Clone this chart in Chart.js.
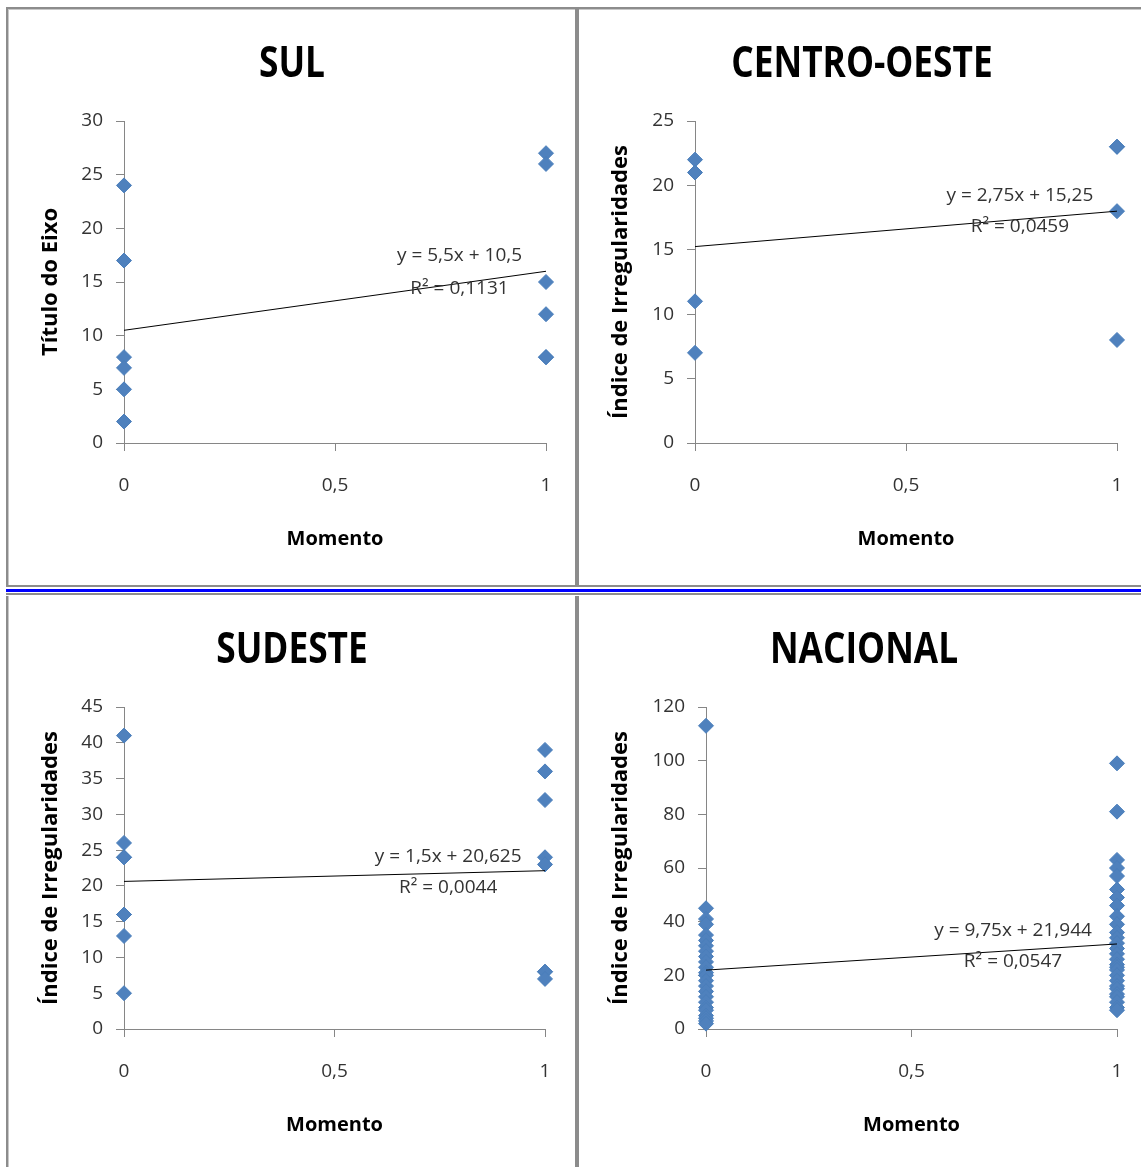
<!DOCTYPE html>
<html lang="pt-BR">
<head>
<meta charset="utf-8">
<title>Índice de Irregularidades por Momento</title>
<script src="https://cdn.jsdelivr.net/npm/chart.js@4.4.1/dist/chart.umd.min.js"></script>
<style>
  html, body { margin: 0; padding: 0; background: #fff; }
  #page { position: relative; width: 1141px; height: 1167px; overflow: hidden; background: #fff; }
  .linha { position: absolute; }
  canvas { position: absolute; }
</style>
</head>
<body>
<div id="page">
  <!-- molduras -->
  <div class="linha" style="left:6px;top:7px;width:1135px;height:2px;background:#8c8c8c"></div>
  <div class="linha" style="left:6px;top:9px;width:1135px;height:1px;background:#c8c8c8"></div>
  <div class="linha" style="left:6px;top:7px;width:2px;height:1160px;background:#8c8c8c"></div>
  <div class="linha" style="left:8px;top:9px;width:1px;height:1158px;background:#c8c8c8"></div>
  <div class="linha" style="left:575px;top:7px;width:4px;height:1160px;background:#8c8c8c"></div>
  <div class="linha" style="left:0;top:585px;width:1141px;height:11px;background:#fff"></div>
  <div class="linha" style="left:6px;top:585px;width:1135px;height:2px;background:#8c8c8c"></div>
  <div class="linha" style="left:6px;top:589px;width:1135px;height:3px;background:#0000ff"></div>
  <div class="linha" style="left:6px;top:593px;width:1135px;height:2px;background:#8c8c8c"></div>

  <canvas id="painel-0" width="566" height="575" style="left:9px;top:10px;width:566px;height:575px"></canvas>
  <canvas id="painel-1" width="562" height="575" style="left:579px;top:10px;width:562px;height:575px"></canvas>
  <canvas id="painel-2" width="566" height="571" style="left:9px;top:596px;width:566px;height:571px"></canvas>
  <canvas id="painel-3" width="562" height="571" style="left:579px;top:596px;width:562px;height:571px"></canvas>
</div>

<script>
/* ============================================
   Irregularidades x Momento – 4 regiões
   ============================================ */

const regioes = ['SUL', 'CENTRO-OESTE', 'SUDESTE', 'NACIONAL'];
const tituloEixoY = ['Título do Eixo', 'Índice de Irregularidades', 'Índice de Irregularidades', 'Índice de Irregularidades'];
const tituloEixoX = 'Momento';
const maxEixoY = [30, 25, 45, 120];
const passoEixoY = [5, 5, 5, 20];
const ticksEixoX = [0, 0.5, 1];

// valores (momento 0 e momento 1)
const sulMomento0 = [24, 17, 8, 7, 5, 2];
const sulMomento1 = [27, 26, 15, 12, 8, 8];
const coMomento0 = [22, 21, 11, 7];
const coMomento1 = [23, 23, 18, 8];
const sudesteMomento0 = [41, 26, 24, 24, 16, 16, 13, 5];
const sudesteMomento1 = [39, 36, 32, 24, 23, 8, 8, 7];
const nacionalMomento0 = [113, 45, 41, 39, 35, 33, 31, 29, 27, 25, 23, 21, 20, 18, 16, 14, 12, 10, 8, 7, 5, 4, 3, 2];
const nacionalMomento1 = [99, 81, 63, 60, 57, 52, 49, 46, 42, 39, 36, 34, 32, 30, 28, 26, 24, 23, 22, 20, 18, 16, 15, 13, 12, 10, 8, 7];

const momento0 = [sulMomento0, coMomento0, sudesteMomento0, nacionalMomento0];
const momento1 = [sulMomento1, coMomento1, sudesteMomento1, nacionalMomento1];

// linha de tendência linear (y = a*x + b) e R²
const inclinacao = [5.5, 2.75, 1.5, 9.75];
const intercepto = [10.5, 15.25, 20.625, 21.944];
const rQuadrado = [0.1131, 0.0459, 0.0044, 0.0547];

// posição da área do gráfico dentro de cada canvas [esq, topo, dir, base]
const AREA = [
    [115, 111, 537, 433],
    [116, 111, 538, 433],
    [115, 111, 536, 433],
    [127, 111, 538, 433]
];
// centro horizontal do título no canvas
const CENTRO_TITULO = [283, 283, 283, 285];
// rótulo da equação, em fração da área do gráfico
const ROTULO = [
    { cx: 0.795, y1: 0.419, y2: 0.522 },
    { cx: 0.770, y1: 0.233, y2: 0.329 },
    { cx: 0.770, y1: 0.466, y2: 0.562 },
    { cx: 0.747, y1: 0.693, y2: 0.792 }
];

const AZUL = '#4F81BD';
const EIXO = '#868686';
const TEXTO = '#333333';

const virgula = v => String(v).replace('.', ',');

const equacaoPlugin = {
    id: 'equacao',
    afterDatasetsDraw(chart, args, opts) {
        const { ctx, chartArea: a } = chart;
        const x = a.left + opts.cx * (a.right - a.left);
        ctx.save();
        ctx.font = '19px "Open Sans"';
        ctx.fillStyle = TEXTO;
        ctx.textAlign = 'center';
        ctx.textBaseline = 'middle';
        ctx.fillText(opts.linha1, x, a.top + opts.y1 * (a.bottom - a.top));
        ctx.fillText(opts.linha2, x, a.top + opts.y2 * (a.bottom - a.top));
        ctx.restore();
    }
};

// título condensado (tipo Calibri negrito)
const tituloPlugin = {
    id: 'tituloRegiao',
    afterDraw(chart, args, opts) {
        const ctx = chart.ctx;
        ctx.save();
        ctx.font = 'bold 43px "Open Sans"';
        ctx.fillStyle = '#000';
        ctx.textAlign = 'center';
        ctx.textBaseline = 'alphabetic';
        ctx.translate(opts.cx, opts.base);
        ctx.scale(0.82, 1);
        ctx.fillText(opts.texto, 0, 0);
        ctx.restore();
    }
};

function criarPainel(i) {
    const canvas = document.getElementById('painel-' + i);
    const W = canvas.width, H = canvas.height;
    const [esq, topo, dir, base] = AREA[i];

    const pontos = momento0[i].map(v => ({ x: 0, y: v }))
        .concat(momento1[i].map(v => ({ x: 1, y: v })));
    const tendencia = [0, 1].map(x => ({ x, y: inclinacao[i] * x + intercepto[i] }));

    new Chart(canvas, {
        type: 'scatter',
        data: {
            datasets: [
                {
                    type: 'line',
                    data: tendencia,
                    borderColor: '#000',
                    borderWidth: 1,
                    pointRadius: 0,
                    fill: false,
                    order: 0
                },
                {
                    data: pontos,
                    pointStyle: 'rectRot',
                    pointRadius: 7.5,
                    backgroundColor: AZUL,
                    borderColor: '#4A7EBB',
                    borderWidth: 1,
                    clip: false,
                    order: 1
                }
            ]
        },
        options: {
            responsive: false,
            animation: false,
            devicePixelRatio: 1,
            layout: { padding: { left: 0, top: topo, right: W - dir, bottom: 0 } },
            plugins: {
                legend: { display: false },
                tooltip: { enabled: false },
                title: { display: false },
                tituloRegiao: { texto: regioes[i], cx: CENTRO_TITULO[i], base: 67 },
                equacao: {
                    cx: ROTULO[i].cx, y1: ROTULO[i].y1, y2: ROTULO[i].y2,
                    linha1: 'y = ' + virgula(inclinacao[i]) + 'x + ' + virgula(intercepto[i]),
                    linha2: 'R² = ' + virgula(rQuadrado[i].toFixed(4))
                }
            },
            scales: {
                x: {
                    type: 'linear',
                    min: 0,
                    max: 1,
                    afterFit: s => {
                        s.height = H - base;
                        // o padding dos rótulos não deve empurrar a área do gráfico
                        s.paddingLeft = 6;
                        s.paddingRight = 6;
                    },
                    afterBuildTicks: s => { s.ticks = ticksEixoX.map(v => ({ value: v })); },
                    ticks: {
                        padding: 23,
                        color: TEXTO,
                        font: { family: 'Open Sans', size: 19, lineHeight: 1.2 },
                        callback: v => virgula(v)
                    },
                    grid: { drawOnChartArea: false, color: EIXO, tickColor: EIXO, tickLength: 8 },
                    border: { color: EIXO, width: 1 },
                    title: {
                        display: true,
                        text: tituloEixoX,
                        color: '#000',
                        font: { family: 'Open Sans', size: 20, weight: 'bold', lineHeight: 1.2 },
                        padding: { top: 0, bottom: H - 541 }
                    }
                },
                y: {
                    min: 0,
                    max: maxEixoY[i],
                    afterFit: s => { s.width = esq; },
                    ticks: {
                        stepSize: passoEixoY[i],
                        padding: 13,
                        color: TEXTO,
                        font: { family: 'Open Sans', size: 19, lineHeight: 1.2 }
                    },
                    grid: { drawOnChartArea: false, color: EIXO, tickColor: EIXO, tickLength: 8 },
                    border: { color: EIXO, width: 1 },
                    title: {
                        display: true,
                        text: tituloEixoY[i],
                        color: '#000',
                        font: { family: 'Open Sans', size: 22, weight: 'bold', lineHeight: 1.2 },
                        padding: { top: 29, bottom: 0 }
                    }
                }
            }
        },
        plugins: [equacaoPlugin, tituloPlugin]
    });
}

regioes.forEach((r, i) => criarPainel(i));
</script>
</body>
</html>
